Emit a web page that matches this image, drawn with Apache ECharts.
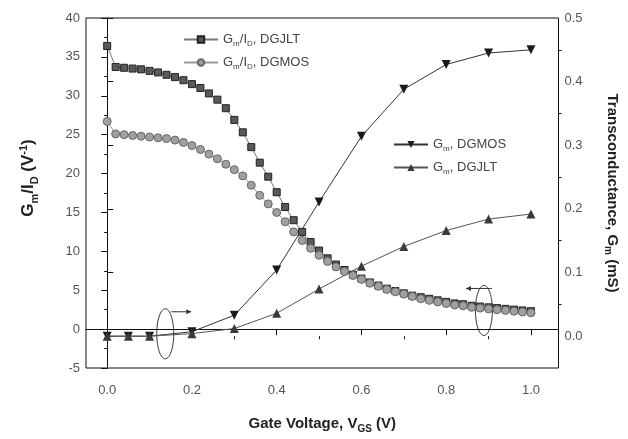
<!DOCTYPE html>
<html><head><meta charset="utf-8">
<script src="https://cdn.jsdelivr.net/npm/echarts@6/dist/echarts.min.js"></script>
<style>html,body{margin:0;padding:0;background:#fff}#c{width:628px;height:439px}</style>
</head><body><div id="c"></div>
<script>
// ---- data ----
const vgsFine = [0.00,0.02,0.04,0.06,0.08,0.10,0.12,0.14,0.16,0.18,0.20,0.22,0.24,0.26,0.28,0.30,0.32,0.34,0.36,0.38,0.40,0.42,0.44,0.46,0.48,0.50,0.52,0.54,0.56,0.58,0.60,0.62,0.64,0.66,0.68,0.70,0.72,0.74,0.76,0.78,0.80,0.82,0.84,0.86,0.88,0.90,0.92,0.94,0.96,0.98,1.00];
const gmIdDGJLT = [36.4,33.7,33.6,33.5,33.4,33.2,33.0,32.7,32.4,32.0,31.5,31.0,30.3,29.5,28.4,26.9,25.3,23.4,21.4,19.6,17.6,15.7,14.0,12.5,11.2,10.1,9.1,8.3,7.6,7.0,6.5,6.0,5.6,5.2,4.9,4.6,4.3,4.1,3.9,3.7,3.5,3.3,3.2,3.0,2.9,2.8,2.7,2.6,2.5,2.4,2.3];
const gmIdDGMOS = [26.7,25.1,25.0,24.9,24.8,24.7,24.6,24.5,24.3,24.0,23.6,23.1,22.5,21.9,21.2,20.5,19.7,18.5,17.2,16.1,15.0,13.8,12.5,11.4,10.4,9.5,8.7,8.0,7.4,6.9,6.4,5.9,5.5,5.1,4.8,4.5,4.2,3.9,3.7,3.5,3.3,3.1,3.0,2.8,2.7,2.6,2.5,2.4,2.3,2.2,2.1];
const vgsCoarse = [0,0.05,0.1,0.2,0.3,0.4,0.5,0.6,0.7,0.8,0.9,1.0];
const gmDGMOS = [0,0,0,0.007,0.033,0.104,0.211,0.314,0.388,0.427,0.445,0.450];
const gmDGJLT = [0,0,0,0.004,0.012,0.036,0.074,0.110,0.141,0.166,0.184,0.192];
const xTickValues = [0,0.2,0.4,0.6,0.8,1.0];
const xMinorValues = [0.1,0.3,0.5,0.7,0.9];
const rightTickValues = [0,0.1,0.2,0.3,0.4,0.5];
const rightMinorValues = [0.05,0.15,0.25,0.35,0.45];

const FONT = 'Liberation Sans, Arial, sans-serif';
const chart = echarts.init(document.getElementById('c'), null, {renderer:'canvas'});

const legendText = {
  'GmId_DGJLT': '{t|G}{s|m}{t|/I}{s|D}{t|, DGJLT}',
  'GmId_DGMOS': '{t|G}{s|m}{t|/I}{s|D}{t|, DGMOS}',
  'Gm_DGMOS': '{t|G}{s|m}{t|, DGMOS}',
  'Gm_DGJLT': '{t|G}{s|m}{t|, DGJLT}'
};
const legendRich = {
  t:{fontSize:13, color:'#444', fontFamily:FONT},
  s:{fontSize:8, color:'#444', fontFamily:FONT, padding:[9,0,0,0]}
};
const axisLineStyle = {color:'#111', width:1};
const labelStyle = {color:'#555', fontSize:13, fontFamily:FONT};

const pair = (xs, ys) => xs.map((x,i)=>[x, ys[i]]);

chart.setOption({
  animation:false,
  backgroundColor:'#fff',
  grid:{left:86, right:68, top:18, bottom:69, show:true, borderColor:'#111', borderWidth:1},
  legend:[
    {data:['GmId_DGJLT','GmId_DGMOS'], orient:'vertical', left:178, top:28, itemGap:8, itemWidth:34, itemHeight:8,
     formatter:n=>legendText[n], textStyle:{rich:legendRich}},
    {data:['Gm_DGMOS','Gm_DGJLT'], orient:'vertical', left:388, top:133, itemGap:8, itemWidth:34, itemHeight:9,
     formatter:n=>legendText[n], textStyle:{rich:legendRich}}
  ],
  xAxis:[
    {type:'value', min:-0.05, max:1.065, position:'bottom',
     axisLine:{lineStyle:axisLineStyle},
     axisTick:{customValues:xTickValues, length:6, lineStyle:axisLineStyle},
     axisLabel:{customValues:xTickValues, formatter:v=>v.toFixed(1), margin:16, ...labelStyle},
     splitLine:{show:false},
     name:'{t|Gate Voltage, V}{s|GS}{t| (V)}', nameLocation:'middle', nameGap:46,
     nameTextStyle:{rich:{t:{fontSize:15, fontWeight:'bold', color:'#222', fontFamily:FONT}, s:{fontSize:10, fontWeight:'bold', color:'#222', fontFamily:FONT, padding:[10,0,0,0]}}}},
    {type:'value', min:-0.05, max:1.065, position:'bottom',
     axisLine:{show:false},
     axisTick:{customValues:xMinorValues, length:3, lineStyle:axisLineStyle},
     axisLabel:{show:false}, splitLine:{show:false}}
  ],
  yAxis:[
    {type:'value', min:-5, max:40, interval:5, position:'left',
     axisLine:{show:true, lineStyle:axisLineStyle},
     axisTick:{show:true, length:6, lineStyle:axisLineStyle},
     minorTick:{show:true, splitNumber:2, length:3, lineStyle:axisLineStyle},
     axisLabel:{margin:6, ...labelStyle},
     splitLine:{show:false},
     name:'{t|G}{s|m}{t|/I}{s|D}{t| (V}{p|-1}{t|)}', nameLocation:'middle', nameGap:46,
     nameTextStyle:{padding:[0,0,0,30], rich:{t:{fontSize:17, fontWeight:'bold', color:'#222', fontFamily:FONT}, s:{fontSize:11, fontWeight:'bold', color:'#222', fontFamily:FONT, padding:[12,0,0,0]}, p:{fontSize:11, fontWeight:'bold', color:'#222', fontFamily:FONT, padding:[0,0,10,0]}}}},
    {type:'value', min:-0.05, max:0.5, position:'right',
     axisLine:{show:true, lineStyle:axisLineStyle},
     axisTick:{show:true, customValues:rightTickValues, length:6, lineStyle:axisLineStyle},
     axisLabel:{customValues:rightTickValues, formatter:v=>v.toFixed(1), margin:6, ...labelStyle},
     splitLine:{show:false},
     name:'{t|Transconductance, G}{s|m}{t| (mS)}', nameLocation:'middle', nameGap:44, nameRotate:-90,
     nameTextStyle:{rich:{t:{fontSize:15, fontWeight:'bold', color:'#222', fontFamily:FONT}, s:{fontSize:10, fontWeight:'bold', color:'#222', fontFamily:FONT, padding:[10,0,0,0]}}}},
    {type:'value', min:-0.05, max:0.5, position:'right',
     axisLine:{show:false},
     axisTick:{show:true, customValues:rightMinorValues, length:3, lineStyle:axisLineStyle},
     axisLabel:{show:false}, splitLine:{show:false}}
  ],
  series:[
    {name:'GmId_DGJLT', type:'line', xAxisIndex:0, yAxisIndex:0, data:pair(vgsFine, gmIdDGJLT),
     symbol:'rect', symbolSize:7, showAllSymbol:true,
     itemStyle:{color:'#5a5a5a', borderColor:'#222', borderWidth:1},
     lineStyle:{color:'#777', width:1}},
    {name:'GmId_DGMOS', type:'line', xAxisIndex:0, yAxisIndex:0, data:pair(vgsFine, gmIdDGMOS),
     symbol:'circle', symbolSize:8, showAllSymbol:true,
     itemStyle:{color:'#a0a0a0', borderColor:'#666', borderWidth:1},
     lineStyle:{color:'#999', width:1}},
    {name:'Gm_DGMOS', type:'line', xAxisIndex:0, yAxisIndex:1, data:pair(vgsCoarse, gmDGMOS),
     symbol:'triangle', symbolRotate:180, symbolSize:9,
     itemStyle:{color:'#1a1a1a'}, lineStyle:{color:'#333', width:1}},
    {name:'Gm_DGJLT', type:'line', xAxisIndex:0, yAxisIndex:1, data:pair(vgsCoarse, gmDGJLT),
     symbol:'triangle', symbolSize:9,
     itemStyle:{color:'#3a3a3a'}, lineStyle:{color:'#555', width:1}}
  ]
});

// annotation ellipses with arrows (positions in data coordinates)
const annotations = [
  {center:[0.137, -0.6], dir:1},
  {center:[0.889, 2.4], dir:-1}
];
const g = [];
annotations.forEach(a=>{
  const p = chart.convertToPixel({xAxisIndex:0, yAxisIndex:0}, a.center);
  g.push({type:'ellipse', shape:{cx:p[0], cy:p[1], rx:8.5, ry:25}, style:{fill:'none', stroke:'#333', lineWidth:1}});
  const y = p[1]-22;
  const x0 = a.dir>0 ? p[0]+6 : p[0]+8;
  const x1 = a.dir>0 ? p[0]+26 : p[0]-18;
  g.push({type:'line', shape:{x1:x0, y1:y, x2:x1, y2:y}, style:{stroke:'#333', lineWidth:1}});
  g.push({type:'polygon', shape:{points:[[x1, y],[x1-5*a.dir, y-2.5],[x1-5*a.dir, y+2.5]]}, style:{fill:'#333'}});
});
chart.setOption({graphic:g});
</script>
</body></html>
